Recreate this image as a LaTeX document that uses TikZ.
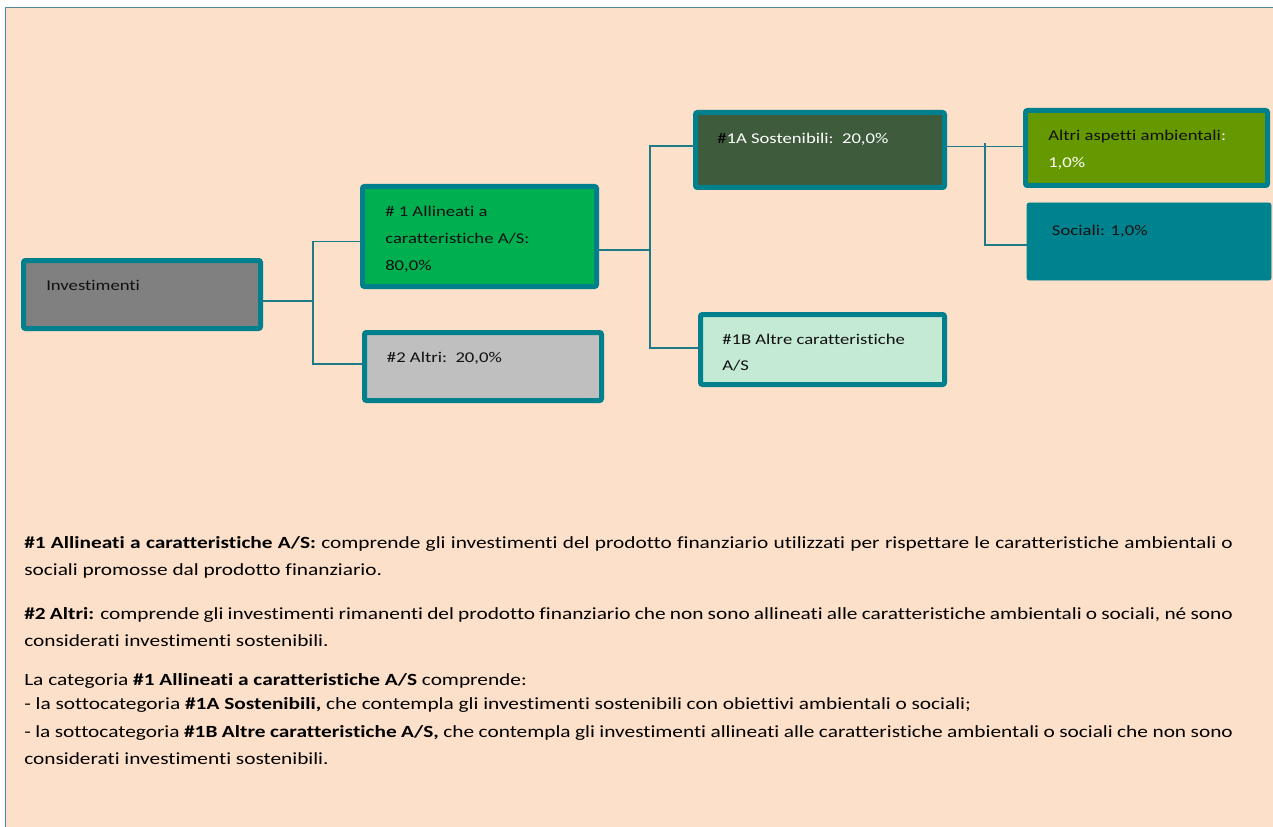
\documentclass[tikz,border=0pt]{standalone}
\usepackage{fontspec}
\setmainfont{Carlito}[FakeStretch=1.25, Ligatures=NoCommon]
\usetikzlibrary{calc}
\definecolor{bg}{HTML}{FDE0C9}
\definecolor{teal1}{HTML}{00808C}
\definecolor{connc}{HTML}{1F7A87}
\definecolor{framec}{HTML}{4F8C96}
\definecolor{invfill}{HTML}{808080}
\definecolor{aonefill}{HTML}{00B050}
\definecolor{atwofill}{HTML}{BFBFBF}
\definecolor{sonefill}{HTML}{3E5B3C}
\definecolor{btwofill}{HTML}{C5EAD4}
\definecolor{ambfill}{HTML}{669900}
\definecolor{socfill}{HTML}{00838F}
\definecolor{txt}{HTML}{111111}
\begin{document}
\begin{tikzpicture}[x=0.75pt,y=-0.75pt,
  box/.style={draw=teal1, line width=3.75pt, rounded corners=1.5pt, anchor=north west, inner sep=0pt, outer sep=0pt},
  btext/.style={font=\fontsize{11.2pt}{13pt}\selectfont, text=txt, anchor=base west, inner sep=0pt},
  desc/.style={font=\fontsize{12.8pt}{15pt}\selectfont, text=black, anchor=base west, inner sep=0pt},
  conn/.style={draw=connc, line width=1pt},
  frame/.style={draw=framec, line width=1.2pt}]
\useasboundingbox (0,0) rectangle (1273,827);
\fill[white] (0,0) rectangle (1273,827);
\fill[bg] (5,7) rectangle (1273,827);
\draw[frame] (5.5,827) -- (5.5,7.5) -- (1273,7.5);

% boxes
\node[box, fill=invfill, minimum width=177.75pt, minimum height=51pt] (inv) at (23.5,260.5) {};
\node[box, fill=aonefill, minimum width=175.5pt, minimum height=75pt] (a1) at (362.5,186.5) {};
\node[box, fill=atwofill, minimum width=177.75pt, minimum height=51pt] (a2) at (364.5,332.5) {};
\node[box, fill=sonefill, minimum width=186.75pt, minimum height=56.25pt] (s1a) at (695.5,112.5) {};
\node[box, fill=btwofill, minimum width=183pt, minimum height=52.5pt] (s1b) at (700.5,314.5) {};
\node[box, fill=ambfill, minimum width=181.5pt, minimum height=56.25pt] (amb) at (1025.5,110.5) {};
\node[box, fill=socfill, draw=socfill, line width=0.5pt, minimum width=183pt, minimum height=57.75pt] (soc) at (1027,203) {};

% connectors
\coordinate (j1) at (313,301);
\draw[conn] (inv.east |- j1) -- (j1);
\coordinate (v1t) at (313,241.7);
\coordinate (v1b) at (313,364);
\draw[conn] (v1t -| a1.west) -- (v1t) -- (v1b) -- (v1b -| a2.west);
\coordinate (j2) at (650,250);
\draw[conn] (j2 -| a1.east) -- (j2);
\coordinate (v2t) at (650,146);
\coordinate (v2b) at (650,348);
\draw[conn] (v2t -| s1a.west) -- (v2t) -- (v2b) -- (v2b -| s1b.west);
\coordinate (h3) at (985,146.5);
\draw[conn] (h3 -| s1a.east) -- (h3 -| amb.west);
\coordinate (v3t) at (985,143);
\coordinate (v3b) at (985,245);
\draw[conn] (v3t) -- (v3b) -- (v3b -| soc.west);

% box texts
\node[btext] (tinv) at (46,290.7) {Investimenti};
\node[btext] (ta1a) at (385,216.7) {\# 1 Allineati a};
\node[btext] (ta1b) at (385,243.3) {caratteristiche A/S:};
\node[btext] (ta1c) at (385,270) {80,0\%};
\node[btext] (ta2) at (386.7,362) {\#2 Altri:\ \ 20,0\%};
\node[btext, text=white] (ts1a) at (717,143.3) {\textcolor{black}{\#}1A Sostenibili:\ \ 20,0\%};
\node[btext] (ts1ba) at (722,344) {\#1B Altre caratteristiche};
\node[btext] (ts1bb) at (722,370) {A/S};
\node[btext] (tamba) at (1048,141) {Altri aspetti ambientali\textcolor{white}{:}};
\node[btext, text=white] (tambb) at (1048,167.3) {1,0\%};
\node[btext] (tsoc) at (1051.7,236) {Sociali: 1,0\%};

% description
\node[desc] (d1) at (24,548.5) {\makebox[906.5pt][s]{\textbf{\#1 Allineati a caratteristiche A/S:} comprende gli investimenti del prodotto finanziario utilizzati per rispettare le caratteristiche ambientali o}};
\node[desc] (d2) at (24,575) {sociali promosse dal prodotto finanziario.};
\node[desc] (d3) at (24,619) {\makebox[906.5pt][s]{\textbf{\#2 Altri:} comprende gli investimenti rimanenti del prodotto finanziario che non sono allineati alle caratteristiche ambientali o sociali, né sono}};
\node[desc] (d4) at (24,646) {considerati investimenti sostenibili.};
\node[desc] (d5) at (24,685.7) {La categoria \textbf{\#1 Allineati a caratteristiche A/S} comprende:};
\node[desc] (d6) at (24,709.5) {- la sottocategoria \textbf{\#1A Sostenibili,} che contempla gli investimenti sostenibili con obiettivi ambientali o sociali;};
\node[desc] (d7) at (24,737) {\makebox[906.5pt][s]{- la sottocategoria \textbf{\#1B Altre caratteristiche A/S,} che contempla gli investimenti allineati alle caratteristiche ambientali o sociali che non sono}};
\node[desc] (d8) at (24,764) {considerati investimenti sostenibili.};
\end{tikzpicture}
\end{document}
